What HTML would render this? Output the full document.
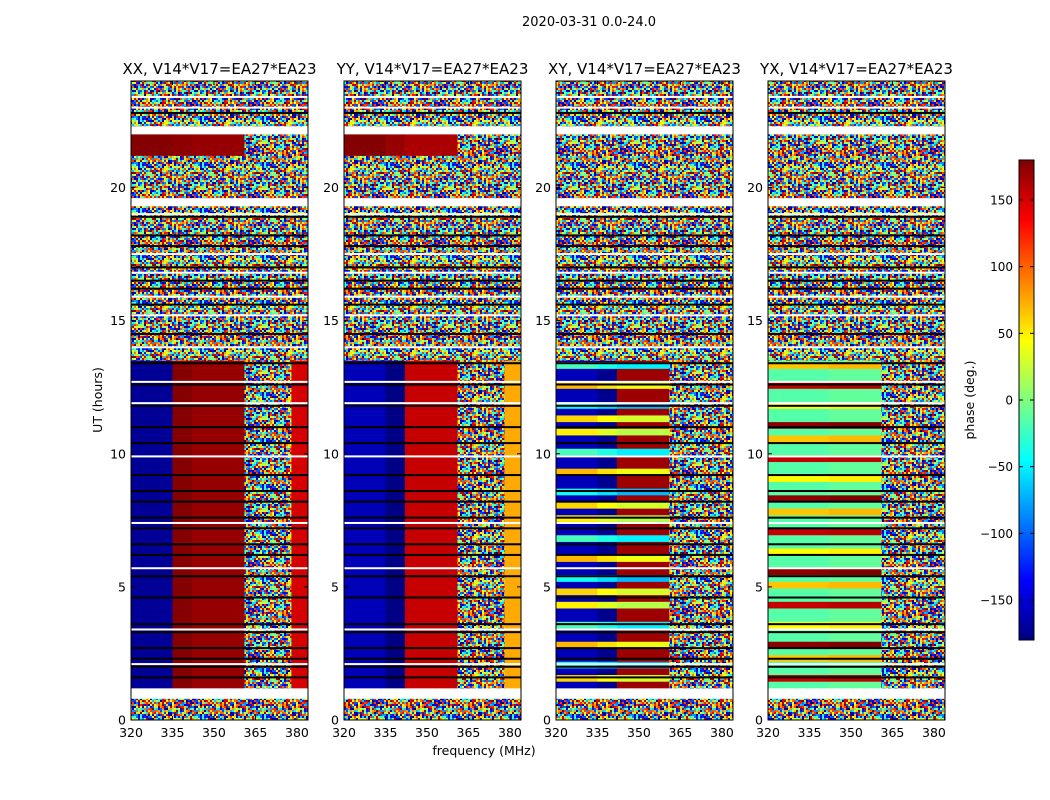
<!DOCTYPE html>
<html><head><meta charset="utf-8"><style>
body{margin:0;background:#fff;}
svg{display:block;font-family:"DejaVu Sans","Liberation Sans",sans-serif;}
</style></head><body>
<svg id="fig" width="1050" height="800" viewBox="0 0 1050 800"></svg>
<script>
// ---- data ----
const panelTitles = ["XX, V14*V17=EA27*EA23","YY, V14*V17=EA27*EA23","XY, V14*V17=EA27*EA23","YX, V14*V17=EA27*EA23"];
const xTicks = [320,335,350,365,380];
const yTicks = [0,5,10,15,20];
const cbTicks = [-150,-100,-50,0,50,100,150];
// time segments [startHour, endHour, type]  n=noise w=flagged c=coherent h=coherent-top
const timeSegments = [[0,0.8,'n'],[0.8,1.2,'w'],[1.2,13.5,'c'],[13.5,19.3,'n'],[19.3,19.6,'w'],[19.6,21.2,'n'],[21.2,22.0,'h'],[22.0,22.3,'w'],[22.3,24,'n']];
const blackLines = [1.6,2.0,2.3,2.7,3.3,3.6,4.6,5.4,6.2,6.6,7.2,7.6,8.2,8.6,9.2,10.4,11.0,11.8,12.6,13.4,14.5,15.6,16.2,16.5,17.0,17.8,18.2,18.9,22.8];
const whiteLines = [2.1,3.4,5.7,7.4,9.9,11.9,12.7,14.0,15.2,15.9,16.8,17.5,19.0,23.0,23.4];
// frequency bands (MHz) and phase per band for coherent rows (null = noise)
const bandEdges = [320,335,342,361,378,384];
const bandPhaseXX = [-172,178,172,null,150];
const bandPhaseYY = [-160,-178,155,null,75];
const bandPhaseXY = [-160,-175,170,null,null];
const bandPhaseYX = [-15,-15,-10,null,null];
const topPhaseXX = [178,175,172,null,null];
const topPhaseYY = [178,172,165,null,null];
// stripe modulation (added to band phase, cycled per 0.25h row) for cross-hands
const stripeXY = [0,220,0,120,0,0,230,0,0,140,0,0,210];
const stripeYX = [0,170,0,0,80,0,190,0,0,60,0];
const stripeXXYY = [0,0,0,0,0,0,0,0];
const panelPhases = [bandPhaseXX,bandPhaseYY,bandPhaseXY,bandPhaseYX];
const panelTop = [topPhaseXX,topPhaseYY,[null,null,null,null,null],[null,null,null,null,null]];
const panelStripes = [stripeXXYY,stripeXXYY,stripeXY,stripeYX];

// ---- layout ----
const panelX = [131,344,556,768], PW=177, PT=81, PB=720;
const F0=320,F1=384,T0=0,T1=24;
const NS="http://www.w3.org/2000/svg";
const svg=document.getElementById('fig');
function mk(tag,attrs,parent){const e=document.createElementNS(NS,tag);for(const k in attrs)e.setAttribute(k,attrs[k]);(parent||svg).appendChild(e);return e;}
function jet(v){let t=(v+180)/360;t=Math.max(0,Math.min(1,t));
 const r=Math.max(0,Math.min(1,1.5-Math.abs(4*t-3))),g=Math.max(0,Math.min(1,1.5-Math.abs(4*t-2))),b=Math.max(0,Math.min(1,1.5-Math.abs(4*t-1)));
 return `rgb(${Math.round(r*255)},${Math.round(g*255)},${Math.round(b*255)})`;}
function wrap(p){while(p>180)p-=360;while(p<-180)p+=360;return p;}

// noise texture pattern (visual texture only)
const defs=mk('defs',{});
const pat=mk('pattern',{id:'noise',width:62,height:46,patternUnits:'userSpaceOnUse'},defs);
for(let i=0;i<31;i++)for(let j=0;j<23;j++){
 const h=Math.sin(i*12.9898+j*78.233)*43758.5453;
 const v=(h-Math.floor(h))*360-180;
 mk('rect',{x:i*2,y:j*2,width:2,height:2,fill:jet(v)},pat);}

const title=mk('text',{x:589,y:26,'text-anchor':'middle','font-size':13},svg);
title.textContent='2020-03-31 0.0-24.0';



panelX.forEach((px,pi)=>{
 const g=mk('g',{});
 
 
 const xs=f=>px+(f-F0)/(F1-F0)*PW;
 const ys=t=>PB-(t-T0)/(T1-T0)*(PB-PT);
 timeSegments.forEach(seg=>{
  const [a,b,type]=seg;
  if(type==='w'){const r=mk('rect',{x:px,y:ys(b),width:PW,height:ys(a)-ys(b),fill:'#fff'},g);return;}
  if(type==='n'){const r=mk('rect',{x:px,y:ys(b),width:PW,height:ys(a)-ys(b),fill:'url(#noise)'},g);return;}
  const phases=type==='c'?panelPhases[pi]:panelTop[pi];
  const stripes=type==='c'?panelStripes[pi]:[0];
  const step=0.25;
  for(let t=a,k=0;t<b-1e-6;t+=step,k++){
   const te=Math.min(b,t+step);
   for(let bi=0;bi<bandEdges.length-1;bi++){
    const ph=phases[bi];
    const cell=mk('rect',{x:xs(bandEdges[bi]),y:ys(te),width:xs(bandEdges[bi+1])-xs(bandEdges[bi])+0.3,height:ys(t)-ys(te)+0.3,
      fill:ph===null?'url(#noise)':jet(wrap(ph+stripes[k%stripes.length]))},g);
    
    
   }
  }
 });
 blackLines.forEach(t=>{const l=mk('rect',{x:px,y:ys(t)-1,width:PW,height:2,fill:'#000'},g);});
 whiteLines.forEach(t=>{const l=mk('rect',{x:px,y:ys(t)-1,width:PW,height:2,fill:'#fff'},g);});
 const fr=mk('rect',{x:px,y:PT,width:PW,height:PB-PT,fill:'none',stroke:'#000','stroke-width':1},g);
 
 xTicks.forEach(v=>{const x=xs(v);
  mk('line',{x1:x,x2:x,y1:PB,y2:PB-4,stroke:'#000'},g);mk('line',{x1:x,x2:x,y1:PT,y2:PT+4,stroke:'#000'},g);
  const tx=mk('text',{x:x,y:PB+17,'text-anchor':'middle','font-size':12.5},g);tx.textContent=v;
  });
 yTicks.forEach(v=>{const y=ys(v);
  mk('line',{x1:px,x2:px+4,y1:y,y2:y,stroke:'#000'},g);mk('line',{x1:px+PW,x2:px+PW-4,y1:y,y2:y,stroke:'#000'},g);
  const tx=mk('text',{x:px-5,y:y+4.5,'text-anchor':'end','font-size':12.5},g);tx.textContent=v;
  });
 const tt=mk('text',{x:px+PW/2,y:74,'text-anchor':'middle','font-size':15},g);tt.textContent=panelTitles[pi];
 
});

const xl=mk('text',{x:484,y:755,'text-anchor':'middle','font-size':12.5});xl.textContent='frequency (MHz)';

const yl=mk('text',{x:102,y:400,'text-anchor':'middle','font-size':12.5,transform:'rotate(-90 102 400)'});yl.textContent='UT (hours)';


// colorbar
const CX=1019,CW=15,CT=160,CB=640;
const cb=mk('g',{});

const cys=v=>CB-(v+180)/360*(CB-CT);
for(let v=-180;v<180;v+=2){mk('rect',{x:CX,y:cys(v+2),width:CW,height:cys(v)-cys(v+2)+0.5,fill:jet(v+1)},cb);}
mk('rect',{x:CX,y:CT,width:CW,height:CB-CT,fill:'none',stroke:'#000','stroke-width':1},cb);
cbTicks.forEach(v=>{const y=cys(v);
 mk('line',{x1:CX,x2:CX+4,y1:y,y2:y,stroke:'#000'},cb);mk('line',{x1:CX+CW,x2:CX+CW-4,y1:y,y2:y,stroke:'#000'},cb);
 const t=mk('text',{x:1013,y:y+4.5,'text-anchor':'end','font-size':12},cb);t.textContent=(v<0?'\u2212'+(-v):v);
 });
const cl=mk('text',{x:974,y:400,'text-anchor':'middle','font-size':12.5,transform:'rotate(-90 974 400)'});cl.textContent='phase (deg.)';

</script>
</body></html>
